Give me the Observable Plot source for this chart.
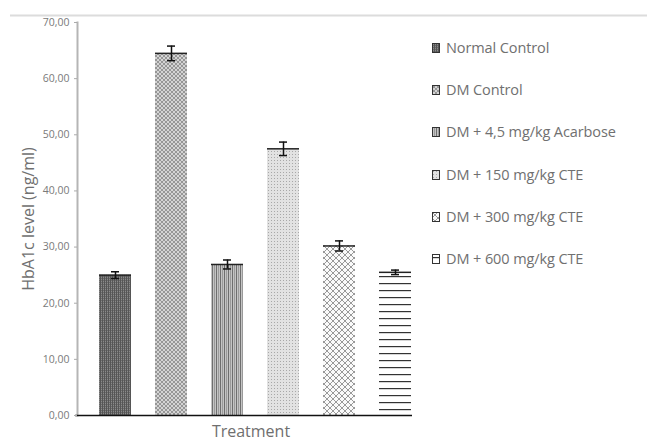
<!DOCTYPE html>
<html>
<head>
<meta charset="utf-8">
<script src="https://cdn.jsdelivr.net/npm/d3@7"></script>
<script src="https://cdn.jsdelivr.net/npm/@observablehq/plot@0.6"></script>
<style>
  html, body { margin: 0; padding: 0; background: #fff; }
  #wrap { position: relative; width: 647px; height: 443px; font-family: "Open Sans", sans-serif; }
  #legend { position: absolute; left: 432px; top: 39px; }
  .item { height: 42.2px; display: flex; align-items: flex-start; font-size: 14.5px; line-height: 18px; color: #707070; letter-spacing: -0.1px; }
  .item svg { margin-right: 6px; margin-top: 4px; flex: none; }
</style>
</head>
<body>
<div id="wrap"></div>
<script>
const categories = ["Normal Control", "DM Control", "DM + 4,5 mg/kg Acarbose", "DM + 150 mg/kg CTE", "DM + 300 mg/kg CTE", "DM + 600 mg/kg CTE"];
const values = [25.0, 64.5, 26.9, 47.5, 30.2, 25.5];
const errors = [0.6, 1.3, 0.8, 1.2, 0.9, 0.4];
const patternIds = ["p1", "p2", "p3", "p4", "p5", "p6"];
const yTicks = [0, 10, 20, 30, 40, 50, 60, 70];

const data = categories.map((c, i) => ({cat: c, value: values[i], err: errors[i], fill: `url(#${patternIds[i]})`}));

const chart = Plot.plot({
  width: 647,
  height: 443,
  marginLeft: 77,
  marginRight: 223,
  marginTop: 22,
  marginBottom: 28,
  style: {fontFamily: "Open Sans, sans-serif", fontSize: "10px", color: "#7a7a7a", background: "#fff"},
  x: {domain: categories, range: [86, 424], paddingInner: 0.43, paddingOuter: 0.215, axis: null},
  y: {domain: [0, 70], ticks: yTicks},
  marks: [
    Plot.ruleY([70], {dy: -7, insetLeft: -67, insetRight: -223, stroke: "#dcdcdc", strokeWidth: 2}),
    Plot.barY(data, {x: "cat", y: "value", fill: "fill"}),
    Plot.tickY(data, {x: "cat", y: "value", stroke: "#222", strokeWidth: 1.5}),
    Plot.ruleX(data, {x: "cat", y1: d => d.value - d.err, y2: d => d.value + d.err, stroke: "#111", strokeWidth: 1.5}),
    Plot.tickY(data, {x: "cat", y: d => d.value + d.err, stroke: "#111", strokeWidth: 1.5, insetLeft: 12, insetRight: 12}),
    Plot.tickY(data, {x: "cat", y: d => d.value - d.err, stroke: "#111", strokeWidth: 1.5, insetLeft: 12, insetRight: 12}),
    Plot.frame({anchor: "left", stroke: "#b5b5b5", strokeWidth: 2}),
    Plot.ruleY([0], {stroke: "#111", strokeWidth: 1.5, insetRight: 12, insetLeft: -2}),
    Plot.axisY({ticks: yTicks, tickFormat: d => d.toFixed(2).replace(".", ","), tickSize: 3, tickPadding: 5, stroke: "#aaa", label: null, fill: "#7a7a7a", fontSize: 10.5}),
    Plot.text(["HbA1c level (ng/ml)"], {frameAnchor: "left", textAnchor: "middle", rotate: -90, dx: -49, fontSize: 16, fill: "#707070", style: "letter-spacing: 0.5px"}),
    Plot.text(["Treatment"], {frameAnchor: "bottom", dy: 21, fontSize: 16, fill: "#6f6f6f"})
  ]
});

const defs = `
<defs>
  <pattern id="p1" patternUnits="userSpaceOnUse" width="2" height="2">
    <rect width="2" height="2" fill="#8a8a8a"/>
    <rect width="1" height="2" fill="#555"/>
    <rect x="1" width="1" height="1" fill="#6a6a6a"/>
  </pattern>
  <pattern id="p2" patternUnits="userSpaceOnUse" width="4" height="4">
    <rect width="4" height="4" fill="#d4d4d4"/>
    <path d="M0,0 L4,4 M4,0 L0,4" stroke="#8e8e8e" stroke-width="0.9"/>
  </pattern>
  <pattern id="p3" patternUnits="userSpaceOnUse" width="4" height="4">
    <rect width="4" height="4" fill="#c4c4c4"/>
    <rect x="0" width="1" height="4" fill="#6e6e6e"/>
    <rect x="2" width="1" height="4" fill="#9a9a9a"/>
  </pattern>
  <pattern id="p4" patternUnits="userSpaceOnUse" width="3" height="3">
    <rect width="3" height="3" fill="#e2e2e2"/>
    <rect x="1" y="1" width="1" height="1" fill="#a8a8a8"/>
  </pattern>
  <pattern id="p5" patternUnits="userSpaceOnUse" width="6" height="6">
    <rect width="6" height="6" fill="#fafafa"/>
    <path d="M0,0 L6,6 M6,0 L0,6" stroke="#999" stroke-width="1"/>
  </pattern>
  <pattern id="p6" patternUnits="userSpaceOnUse" width="7" height="7">
    <rect width="7" height="7" fill="#ffffff"/>
    <rect y="3" width="7" height="1.2" fill="#333"/>
  </pattern>
</defs>`;
d3.select(chart).insert("g", ":first-child").html(defs);

const wrap = document.getElementById("wrap");
wrap.appendChild(chart);

const legend = document.createElement("div");
legend.id = "legend";
categories.forEach((c, i) => {
  const item = document.createElement("div");
  item.className = "item";
  item.innerHTML = `<svg width="8" height="10"><rect x="0.5" y="0.5" width="7" height="9" fill="url(#${patternIds[i]})" stroke="#333" stroke-width="1"/></svg><span>${c}</span>`;
  legend.appendChild(item);
});
wrap.appendChild(legend);
</script>
</body>
</html>
